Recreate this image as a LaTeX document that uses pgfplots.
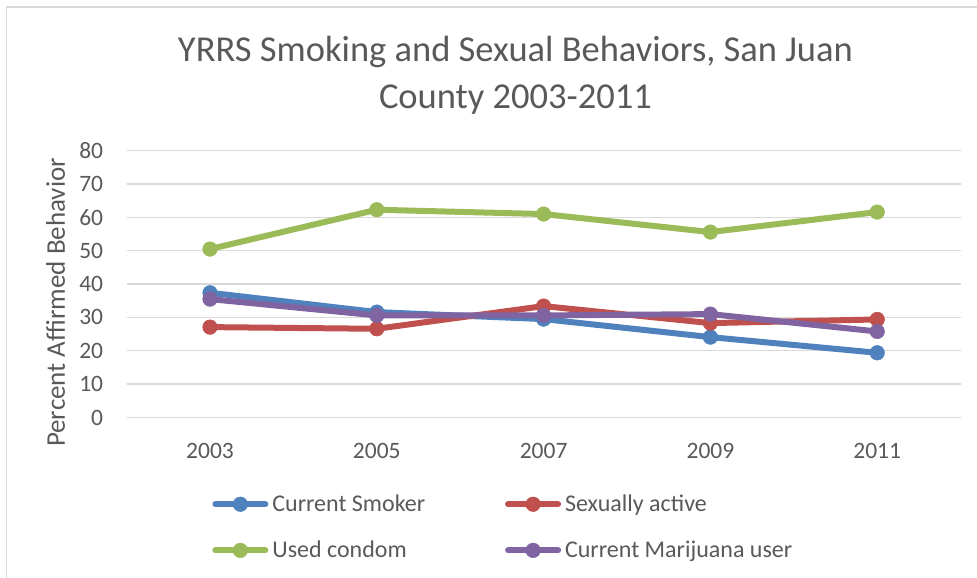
\documentclass[border=0pt]{standalone}
\usepackage{pgfplots}
\pgfplotsset{compat=1.18}
\usepackage{fontspec}
\setmainfont{Carlito}

\definecolor{txt}{HTML}{595959}
\definecolor{gridgray}{HTML}{D9D9D9}
\definecolor{cBlue}{HTML}{4F81BD}
\definecolor{cRed}{HTML}{C0504D}
\definecolor{cGreen}{HTML}{9BBB59}
\definecolor{cPurple}{HTML}{8064A2}

\pgfplotsset{
  series/.style={color=#1, line width=6bp, line join=round, line cap=round,
    mark=*, mark size=7.3bp, mark options={solid, fill=#1, draw=#1, line width=0.5bp}},
}

\begin{document}
\begin{tikzpicture}[x=1bp,y=1bp]
\useasboundingbox (0,0) rectangle (977,578);
% chart area frame
\draw[gridgray, line width=1.5bp] (6.5,-2) -- (6.5,571) -- (980,571);
\begin{axis}[
  at={(126.6bp,160.5bp)}, anchor=south west,
  scale only axis, width=834bp, height=266.8bp,
  xmin=-0.5, xmax=4.5, ymin=0, ymax=80,
  xtick={0,...,4}, xticklabels={2003,2005,2007,2009,2011},
  ytick={0,10,...,80},
  ymajorgrids, grid style={gridgray, line width=1.3bp},
  axis line style={draw=none},
  major tick length=0pt,
  /pgf/number format/assume math mode=true,
  tick label style={font=\fontsize{23.5bp}{28bp}\selectfont, text=txt, inner sep=0pt},
  yticklabel style={anchor=east, xshift=-23.3bp},
  xticklabel style={anchor=north, yshift=-25.8bp},
  title={YRRS Smoking and Sexual Behaviors, San Juan\\County 2003-2011},
  title style={at={(axis description cs:0.4663,1.1368)}, anchor=base, align=center,
    font=\fontsize{36.5bp}{47bp}\selectfont, text=txt, inner sep=0pt},
  ylabel={Percent Affirmed Behavior},
  ylabel style={at={(axis description cs:-0.0739,0.431)}, anchor=base,
    font=\fontsize{27bp}{31bp}\selectfont, text=txt, inner sep=0pt},
  legend columns=2,
  legend cell align=left,
  legend image code/.code={
    \draw[mark repeat=2, mark phase=2, #1] plot coordinates {(3bp,-0.4bp) (28bp,-0.4bp) (53bp,-0.4bp)};},
  legend style={draw=none, fill=none, inner sep=0pt,
    at={(axis description cs:0.1026,-0.2942)}, anchor=north west,
    font=\fontsize{24bp}{28bp}\selectfont, text=txt, row sep=30.8bp,
    nodes={inner sep=0pt, text height=15.3bp, text depth=0pt},
    /tikz/every odd column/.append style={column sep=4bp},
    /tikz/every even column/.append style={column sep=79.8bp}},
]
% Current Smoker
\addplot[series=cBlue] coordinates {(0,37.4) (1,31.6) (2,29.5) (3,24.1) (4,19.4)};
\addlegendentry{Current Smoker}
% Sexually active
\addplot[series=cRed] coordinates {(0,27.1) (1,26.6) (2,33.4) (3,28.3) (4,29.4)};
\addlegendentry{Sexually active}
% Used condom
\addplot[series=cGreen] coordinates {(0,50.5) (1,62.3) (2,61.0) (3,55.6) (4,61.6)};
\addlegendentry{Used condom}
% Current Marijuana user
\addplot[series=cPurple] coordinates {(0,35.5) (1,30.6) (2,30.6) (3,31.0) (4,25.8)};
\addlegendentry{Current Marijuana user}
\end{axis}
\end{tikzpicture}
\end{document}
